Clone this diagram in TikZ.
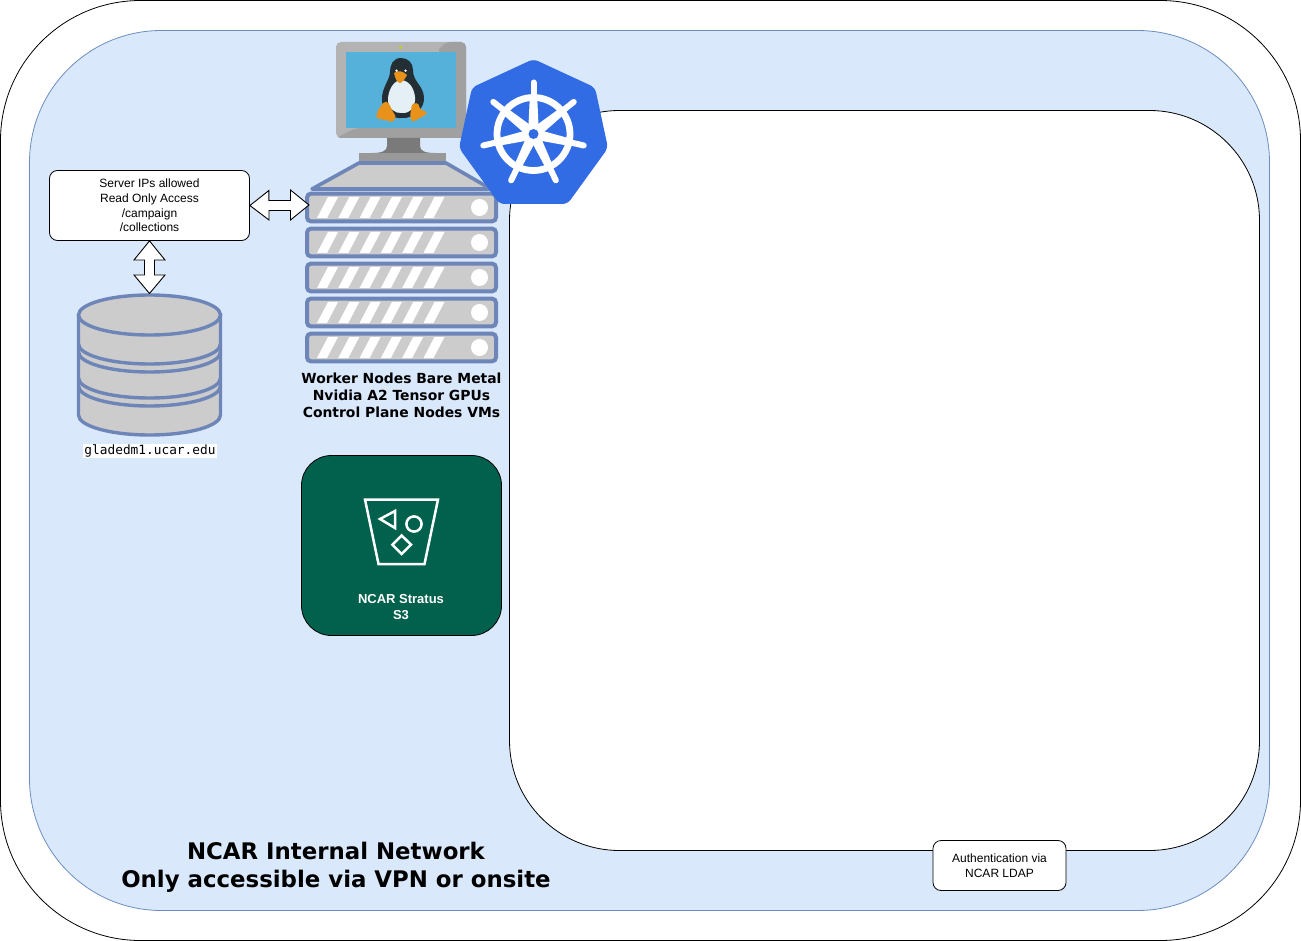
\documentclass[tikz,border=0pt]{standalone}
\usepackage{fontspec}
\setmainfont{Liberation Sans}
\newfontfamily\dejab{DejaVu Sans}
\newfontfamily\dejam{DejaVu Sans Mono}
\usetikzlibrary{calc}
\definecolor{netfill}{HTML}{DAE8FC}
\definecolor{netline}{HTML}{6C8EBF}
\definecolor{srvline}{HTML}{6E85B8}
\definecolor{srvgray}{HTML}{CCCCCC}
\definecolor{k8s}{HTML}{326CE5}
\definecolor{stratus}{HTML}{01614C}
\definecolor{tux}{HTML}{232E35}
\definecolor{tuxo}{HTML}{E8921B}
\tikzset{
  region/.style={draw=black,line width=.8pt,fill=white},
  notebox/.style={draw=black,line width=.8pt,fill=white,rounded corners=8pt,align=center,inner sep=0pt,font=\fontsize{12}{14.6}\selectfont},
  blockarrow/.style={draw=black,line width=.9pt,fill=white,line join=miter},
  srvrow/.style={draw=srvline,line width=4pt,fill=srvgray,rounded corners=4pt},
  srvslash/.style={fill=white,draw=none},
  diskline/.style={draw=srvline,line width=3.4pt,fill=srvgray},
  diskarc/.style={draw=srvline,line width=3.4pt},
  caption/.style={font=\dejab\bfseries\fontsize{13.9}{17}\selectfont,align=center,inner sep=0pt},
  bucket/.style={draw=white,line width=2.5pt,fill=none},
}
\begin{document}
\begin{tikzpicture}[x=1pt,y=-1pt]
\useasboundingbox (0,0) rectangle (1301,941);
% regions
\draw[region,rounded corners=140pt] (0.5,0.5) rectangle (1300.5,940.5);
\draw[draw=netline,line width=.8pt,fill=netfill,rounded corners=132pt] (29.5,30.5) rectangle (1269.5,910.5);
\draw[region,rounded corners=110pt] (509.5,110.5) rectangle (1259.5,850.5);
% monitor
\fill[color={rgb,255:red,179;green,179;blue,179},rounded corners=5pt] (336,42) rectangle (466,138);
\fill[color={rgb,255:red,160;green,160;blue,160},rounded corners=5pt] (446,42)--(466,42)--(466,138)--(336,138)--(356,128)--(456,128)--(456,52)--(436,52)--cycle;
\fill[color={rgb,255:red,85;green,177;blue,217}] (346,52) rectangle (456,128);
\fill[color={rgb,255:red,187;green,212;blue,31}] (400.5,47.5) circle (1.6);
\fill[color={rgb,255:red,122;green,122;blue,122}] (387,138)--(420,138)--(420,146) .. controls (420,151) and (425,153) .. (435,153)--(372,153) .. controls (382,153) and (387,151) .. (387,146)--cycle;
\fill[color={rgb,255:red,153;green,153;blue,153}] (359,153) rectangle (446,162);
% tux
\fill[tux] (401,58) .. controls (393,58) and (390,65) .. (390,72) .. controls (390,80) and (381,88) .. (382,101) .. controls (383,112) and (392,119) .. (402,118) .. controls (414,119) and (425,108) .. (424,97) .. controls (423,85) and (413,82) .. (413,70) .. controls (413,63) and (408,58) .. (401,58) -- cycle;
\fill[color={rgb,255:red,228;green,240;blue,246}] (400,80) .. controls (392,82) and (388,92) .. (388,100) .. controls (388,108) and (395,114) .. (402,113) .. controls (410,114) and (416,106) .. (415,97) .. controls (414,88) and (409,80) .. (400,80) -- cycle;
\fill[tuxo,rounded corners=1.5pt] (384,102)--(388,102)--(392,110)--(396,117)--(393,122)--(385,120)--(376,118)--(378,110)--cycle;
\fill[tuxo,rounded corners=1.5pt] (412,104)--(418,103)--(420,109)--(428,113)--(420,118)--(412,122)--(410,116)--cycle;
\fill[tuxo] (394,73) .. controls (398,70) and (403,71) .. (407,75) .. controls (405,79) and (402,83) .. (400,83) .. controls (397,83) and (395,78) .. (394,73) -- cycle;
\fill[white] (396.5,70.7) circle (1.3) (405.5,70.7) circle (1.3);
% server
\draw[draw=srvline,line width=3.6pt,fill=srvgray,line join=round] (359,163)--(446,163)--(491,189)--(312,189)--cycle;
\foreach \t in {192,227,262,297,332}{
  \draw[srvrow] (307,\t+1.6) rectangle (496,\t+29.4);
  \foreach \i in {0,...,5}{
    \fill[srvslash] (317+21.3*\i,\t+26)--(327+21.3*\i,\t+26)--(338+21.3*\i,\t+5)--(328+21.3*\i,\t+5)--cycle;
  }
  \fill[white] (479.5,\t+15.5) circle (8.5);
}
\coordinate (srvport) at (309,205);
% kubernetes
\fill[k8s,rounded corners=5pt] (533.5,59)--(595,87.5)--(608,148)--(567.5,204)--(499.5,204)--(459,148)--(472,87.5)--cycle;
\draw[white,line width=6.8pt] (533.5,134) circle (36.5);
\foreach \a in {270,321.43,12.86,64.29,115.71,167.14,218.57}{
  \draw[white,line width=6pt,line cap=round] ($(533.5,134)+(\a:36)$) -- ($(533.5,134)+(\a:51.5)$);
  \fill[white] ($(533.5,134)+(\a+6:36)$) -- ($(533.5,134)+(\a-6:36)$) -- ($(533.5,134)+(\a-30:10)$) -- ($(533.5,134)+(\a+30:10)$) -- cycle;
}
\fill[white] (533.5,134) circle (10.5);
\fill[k8s] (533.5,134) circle (5);
% disk
\draw[diskline] (78.5,315) -- (78.5,415) arc[start angle=180,end angle=0,x radius=71,y radius=20] -- (220.5,315) -- cycle;
\draw[diskarc] (78.5,344) arc[start angle=180,end angle=0,x radius=71,y radius=20];
\draw[diskarc] (78.5,352) arc[start angle=180,end angle=0,x radius=71,y radius=20];
\draw[diskarc] (78.5,378) arc[start angle=180,end angle=0,x radius=71,y radius=20];
\draw[diskarc] (78.5,386) arc[start angle=180,end angle=0,x radius=71,y radius=20];
\draw[diskline] (149.5,315) ellipse[x radius=71,y radius=20];
\coordinate (disktop) at (149.5,293.5);
\node[inner sep=1pt,fill=white,font=\dejam\fontsize{12.8}{15}\selectfont] (glade) at (150,451) {gladedm1.ucar.edu};
% notes
\node[notebox,minimum width=200pt,minimum height=70pt] (access) at (149.5,205.5) {Server IPs allowed\\Read Only Access\\/campaign\\/collections};
\node[notebox,minimum width=133pt,minimum height=50pt] (ldap) at (999.5,865.5) {Authentication via\\NCAR LDAP};
% block arrows
\draw[blockarrow] (access.east) -- ++(19,-15) -- ++(0,10) -- (290.5,200.5) -- (290.5,190) -- (srvport) -- (290.5,220) -- (290.5,210.5) -- (269,210.5) -- (269,220) -- cycle;
\draw[blockarrow] (access.south) -- (165,260) -- (154.5,260) -- (154.5,275) -- (165,275) -- (disktop) -- (134,275) -- (144.5,275) -- (144.5,260) -- (134,260) -- cycle;
% captions
\node[caption] (workers) at (401.5,395) {Worker Nodes Bare Metal\\Nvidia A2 Tensor GPUs\\Control Plane Nodes VMs};
% stratus
\draw[draw=black,line width=.8pt,fill=stratus,rounded corners=30pt] (301.5,455.5) rectangle (501.5,635.5);
\draw[bucket,line join=miter] (365,499.5)--(438,499.5)--(424.5,564)--(378.5,564)--cycle;
\draw[bucket,line join=miter] (380,519)--(395,511)--(395,528)--cycle;
\draw[bucket] (414,524) circle (7.6);
\draw[bucket,line join=miter] (401.7,535.5)--(411,544.7)--(401.7,554)--(392.4,544.7)--cycle;
\node[text=white,align=center,inner sep=0pt,font=\bfseries\fontsize{13}{16}\selectfont] (s3) at (401,607) {NCAR Stratus\\S3};
\node[inner sep=0pt,align=center,font=\dejab\bfseries\fontsize{22.85}{28}\selectfont] (net) at (336,867.5) {NCAR Internal Network\\Only accessible via VPN or onsite};
\end{tikzpicture}
\end{document}
